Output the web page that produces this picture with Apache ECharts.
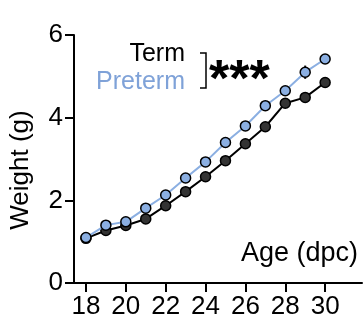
<!DOCTYPE html>
<html>
<head>
<meta charset="utf-8">
<script src="https://cdn.jsdelivr.net/npm/echarts@6/dist/echarts.min.js"></script>
<style>
  html, body { margin: 0; padding: 0; background: #fff; }
  #chart { width: 363px; height: 320px; }
</style>
</head>
<body>
<div id="chart"></div>
<script>
// age in days post coitum
var ages = [18, 19, 20, 21, 22, 23, 24, 25, 26, 27, 28, 29, 30];
var xTicks = [18, 20, 22, 24, 26, 28, 30];
// mean weight (g)
var termWeight    = [1.08, 1.27, 1.39, 1.55, 1.87, 2.21, 2.57, 2.96, 3.37, 3.78, 4.35, 4.49, 4.85];
var pretermWeight = [1.10, 1.40, 1.48, 1.81, 2.13, 2.54, 2.93, 3.40, 3.80, 4.29, 4.65, 5.10, 5.42];
// error (sem)
var termErr    = [0.03, 0.04, 0.04, 0.04, 0.05, 0.05, 0.05, 0.05, 0.05, 0.06, 0.07, 0.07, 0.12];
var pretermErr = [0.03, 0.04, 0.04, 0.04, 0.05, 0.05, 0.05, 0.05, 0.06, 0.06, 0.08, 0.16, 0.10];

var blue = '#8bafe2';
var blueText = '#7fa2d8';
var dark = '#333333';
var font = 'Liberation Sans, Arial, sans-serif';

function pairs(ys) {
    return ages.map(function (a, i) { return [a, ys[i]]; });
}
function errData(ys, es) {
    return ages.map(function (a, i) { return [a, ys[i] - es[i], ys[i] + es[i]]; });
}
function errSeries(ys, es, z) {
    return {
        type: 'custom',
        z: z,
        silent: true,
        data: errData(ys, es),
        encode: { x: 0, y: [1, 2] },
        renderItem: function (params, api) {
            var lo = api.coord([api.value(0), api.value(1)]);
            var hi = api.coord([api.value(0), api.value(2)]);
            return {
                type: 'line',
                shape: { x1: lo[0], y1: lo[1], x2: hi[0], y2: hi[1] },
                style: { stroke: '#000', lineWidth: 2 }
            };
        }
    };
}

var chart = echarts.init(document.getElementById('chart'));

var option = {
    animation: false,
    grid: { left: 74, right: 1, top: 35, bottom: 37 },
    xAxis: {
        type: 'value',
        min: 17.4,
        max: 31.85,
        splitLine: { show: false },
        axisLine: { lineStyle: { color: '#000', width: 2 } },
        axisTick: { length: 9, lineStyle: { color: '#000', width: 2 }, customValues: xTicks },
        axisLabel: { color: '#000', fontSize: 26, fontFamily: font, margin: 11, customValues: xTicks }
    },
    yAxis: {
        type: 'value',
        min: 0,
        max: 6,
        interval: 2,
        name: 'Weight (g)',
        nameLocation: 'middle',
        nameGap: 40,
        nameTextStyle: { color: '#000', fontSize: 26, fontFamily: font, padding: [0, 22, 0, 0] },
        splitLine: { show: false },
        axisLine: { show: true, lineStyle: { color: '#000', width: 2 } },
        axisTick: { show: true, length: 9, lineStyle: { color: '#000', width: 2 } },
        axisLabel: { color: '#000', fontSize: 26, fontFamily: font, margin: 11 }
    },
    graphic: [
        { type: 'text', right: 5, top: 240,
          style: { text: 'Age (dpc)', fill: '#000', font: '27px ' + font } },
        { type: 'text', x: 185, y: 54,
          style: { text: 'Term', fill: '#000', font: '25px ' + font, align: 'right', verticalAlign: 'middle' } },
        { type: 'text', x: 185, y: 82,
          style: { text: 'Preterm', fill: blueText, font: '25px ' + font, align: 'right', verticalAlign: 'middle' } },
        { type: 'polyline',
          shape: { points: [[200, 53], [206, 53], [206, 88], [200, 88]] },
          style: { stroke: '#000', lineWidth: 1.5, fill: null } },
        { type: 'text', x: 209, y: 82,
          style: { text: '***', fill: '#000', font: 'bold 52px ' + font, verticalAlign: 'middle' } }
    ],
    series: [
        errSeries(termWeight, termErr, 2),
        {
            name: 'Term',
            type: 'line',
            z: 3,
            data: pairs(termWeight),
            symbol: 'circle',
            symbolSize: 10,
            lineStyle: { color: '#000', width: 2 },
            itemStyle: { color: dark, borderColor: '#000', borderWidth: 1.5 }
        },
        errSeries(pretermWeight, pretermErr, 4),
        {
            name: 'Preterm',
            type: 'line',
            z: 5,
            data: pairs(pretermWeight),
            symbol: 'circle',
            symbolSize: 10,
            lineStyle: { color: blue, width: 2 },
            itemStyle: { color: blue, borderColor: '#000', borderWidth: 1.5 }
        }
    ]
};

chart.setOption(option);
</script>
</body>
</html>
